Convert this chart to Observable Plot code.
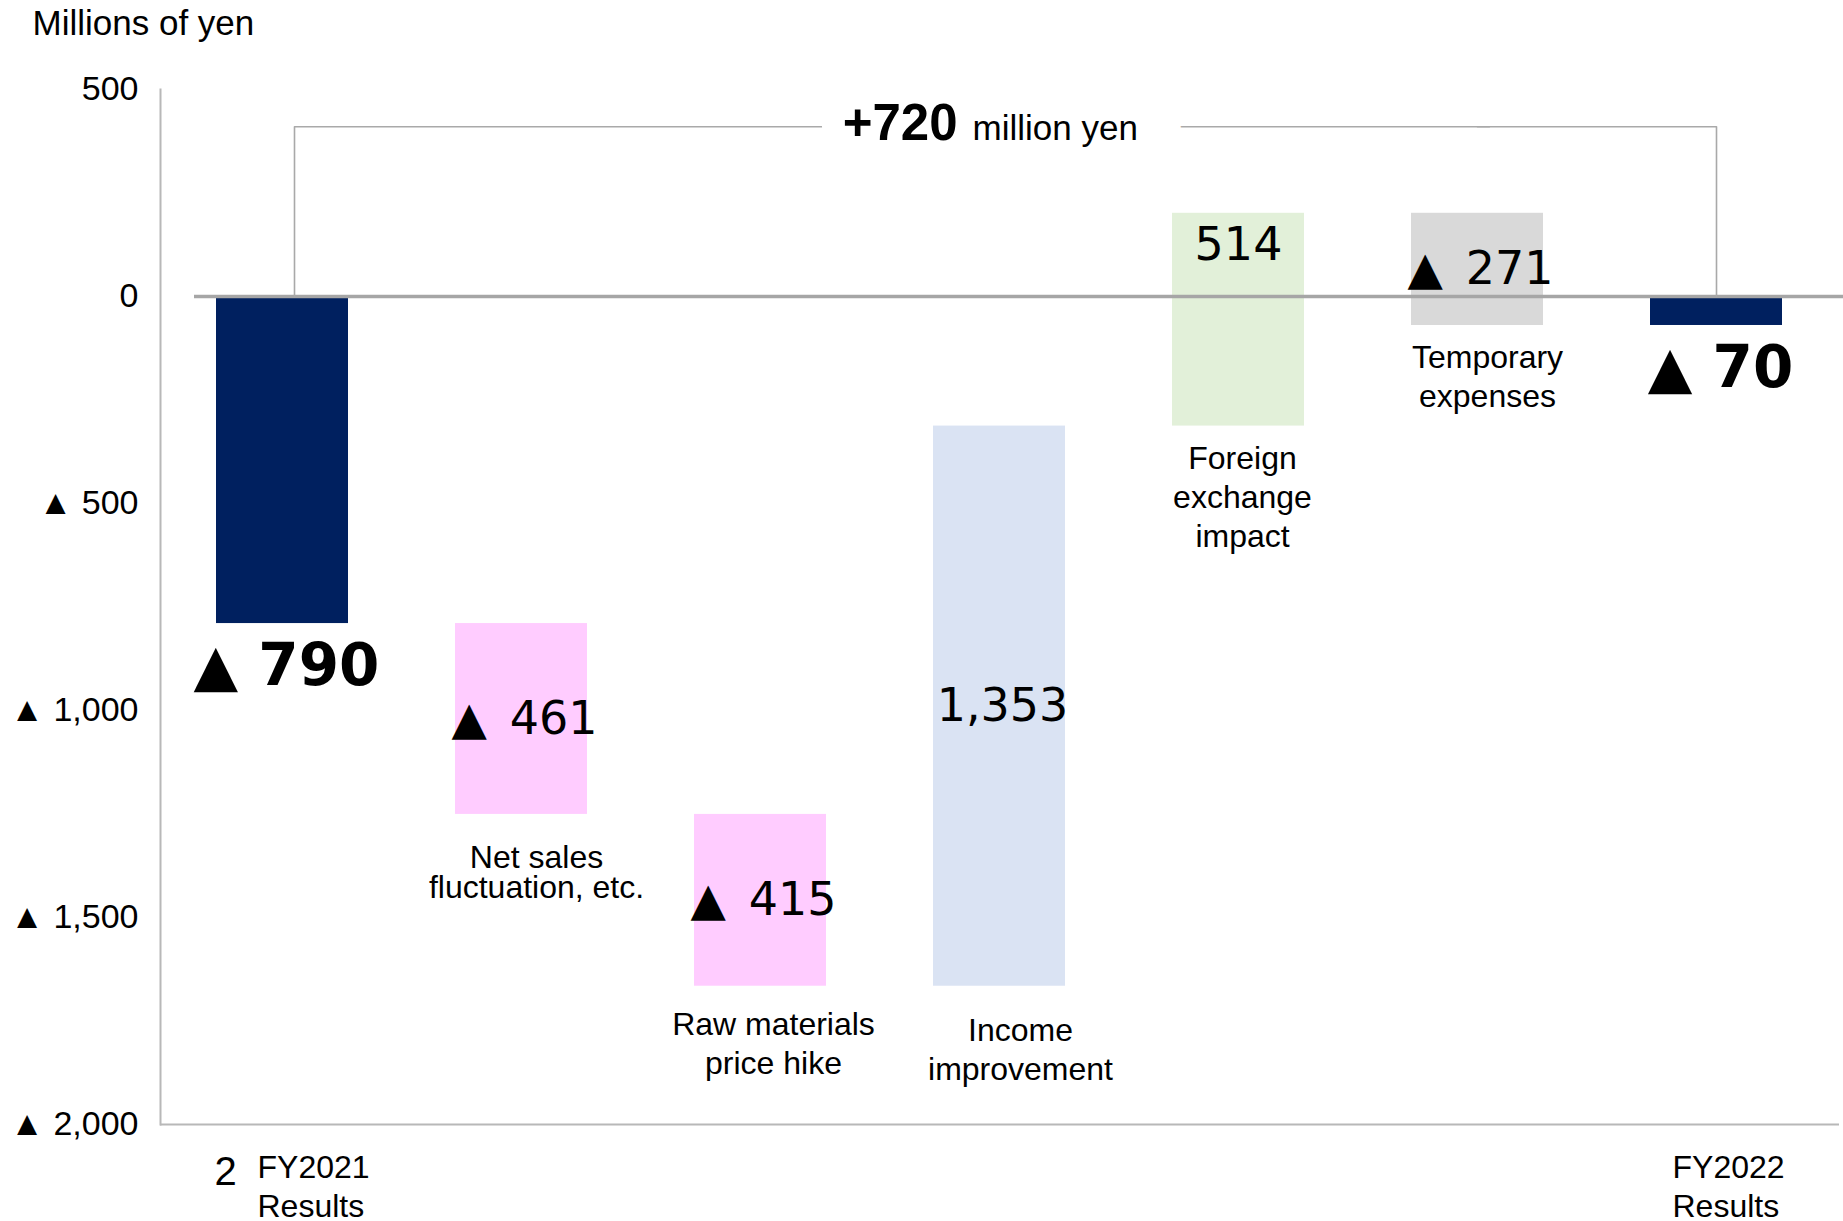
<!DOCTYPE html>
<html><head><meta charset="utf-8">
<script src="https://cdn.jsdelivr.net/npm/d3@7"></script>
<script src="https://cdn.jsdelivr.net/npm/@observablehq/plot@0.6"></script>
<style>html,body{margin:0;padding:0;background:#fff} svg{display:block}</style>
</head><body><div id="chart"></div>
<script>
const categories = ["FY2021 Results","Net sales fluctuation, etc.","Raw materials price hike","Income improvement","Foreign exchange impact","Temporary expenses","FY2022 Results"];
const categoryLabels = ["FY2021\nResults","Net sales\nfluctuation, etc.","Raw materials\nprice hike","Income\nimprovement","Foreign\nexchange\nimpact","Temporary\nexpenses","FY2022\nResults"];
const values = [-790, -461, -415, 1353, 514, -271, -70];
const kinds = ["total","delta","delta","delta","delta","delta","total"];
const barColors = ["#00205F","#FFCCFF","#FFCCFF","#DAE3F3","#E2F0D9","#D9D9D9","#00205F"];
const valueLabelPlace = ["below","middle","middle","middle","top","middle","below"];
const yTicks = [500, 0, -500, -1000, -1500, -2000];
const yDomain = [-2000, 500];
const bracketLevel = 410;
const totalChange = "+720";
const totalUnit = "million yen";
const yUnit = "Millions of yen";
const footnoteMark = "2";

const fmt = v => v < 0 ? "\u25B2 " + d3.format(",")(-v) : d3.format(",")(v);
const fmtBar = v => v < 0 ? "\u25B2\u2002" + d3.format(",")(-v) : d3.format(",")(v);

let run = 0;
const rows = categories.map((cat, i) => {
  let y1, y2;
  if (kinds[i] === "total") { y1 = 0; y2 = values[i]; run = values[i]; }
  else { y1 = run; y2 = run + values[i]; run += values[i]; }
  return {cat, label: categoryLabels[i], value: values[i], kind: kinds[i], color: barColors[i], place: valueLabelPlace[i], y1, y2, lo: Math.min(y1, y2), hi: Math.max(y1, y2)};
});
const totals = rows.filter(d => d.kind === "total");
const deltas = rows.filter(d => d.kind === "delta");
const bracketLeft = [
  {x: categories[0], y: 0}, {x: categories[0], y: bracketLevel}, {x: categories[5], y: bracketLevel}
];
const bracketRight = [
  {x: categories[5], y: bracketLevel}, {x: categories[6], y: bracketLevel}, {x: categories[6], y: 0}
];
const mid = categories[3];
const sans = "Liberation Sans, Arial, sans-serif";
const verd = "DejaVu Sans, Verdana, sans-serif";
const gridGray = "#b8b8b8";

function catLabel(cat, dx, dy, lineHeight = 1.22) {
  return Plot.text(rows.filter(d => d.cat === cat), {x: "cat", y: "lo", text: "label", lineAnchor: "top", dx, dy, fontSize: 32, lineHeight, fontFamily: sans, fill: "#000"});
}
function totalLabel(cat, dx) {
  return Plot.text(totals.filter(d => d.cat === cat), {x: "cat", y: () => yDomain[0], text: "label", lineAnchor: "top", textAnchor: "start", dx, dy: 26, fontSize: 32, lineHeight: 1.22, fontFamily: sans, fill: "#000"});
}

const chart = Plot.plot({
  width: 1843, height: 1221,
  marginLeft: 160, marginRight: 4, marginTop: 89, marginBottom: 97,
  style: {fontFamily: sans, fontSize: "33px", color: "#000", background: "#fff"},
  x: {domain: categories, paddingInner: 0.446, paddingOuter: 0.223, axis: null},
  y: {domain: yDomain},
  color: {type: "identity"},
  marks: [
    Plot.frame({anchor: "left", stroke: gridGray, strokeWidth: 2}),
    Plot.ruleY([yDomain[0]], {stroke: gridGray, strokeWidth: 2}),
    Plot.barY(rows, {x: "cat", y1: "y1", y2: "y2", fill: "color"}),
    Plot.ruleY([0], {stroke: "#a6a6a6", strokeWidth: 3.5, insetLeft: 34, insetRight: -4}),
    Plot.line(bracketLeft, {x: "x", y: "y", dx: 12, stroke: "#a9a9a9", strokeWidth: 1.6}),
    Plot.line(bracketRight, {x: "x", y: "y", stroke: "#a9a9a9", strokeWidth: 1.6}),
    // halos to open the gap in the bracket
    Plot.text([totalChange], {x: () => mid, y: () => bracketLevel, text: d => d, textAnchor: "end", dx: -42, dy: -3, fontSize: 51, fontWeight: "bold", fontFamily: sans, fill: "white", stroke: "white", strokeWidth: 46}),
    Plot.text([totalUnit], {x: () => mid, y: () => bracketLevel, text: d => d, textAnchor: "start", dx: -27, dy: 2, fontSize: 35, fontFamily: sans, fill: "white", stroke: "white", strokeWidth: 90}),
    Plot.text([totalChange], {x: () => mid, y: () => bracketLevel, text: d => d, textAnchor: "end", dx: -42, dy: -3, fontSize: 51, fontWeight: "bold", fontFamily: sans, fill: "#000"}),
    Plot.text([totalUnit], {x: () => mid, y: () => bracketLevel, text: d => d, textAnchor: "start", dx: -27, dy: 2, fontSize: 35, fontFamily: sans, fill: "#000"}),
    // value labels
    Plot.text(totals, {x: "cat", y: "lo", text: d => fmt(d.value), dx: 4, dy: 43, fontSize: 58, fontWeight: "bold", fontFamily: verd, fill: "#000"}),
    Plot.text(deltas.filter(d => d.place === "middle"), {x: "cat", y: d => (d.y1 + d.y2) / 2, text: d => fmtBar(d.value), dx: 3, fontSize: 46, fontFamily: verd, fill: "#000"}),
    Plot.text(deltas.filter(d => d.place === "top"), {x: "cat", y: "hi", text: d => fmtBar(d.value), dy: 32, fontSize: 46, fontFamily: verd, fill: "#000"}),
    // category labels under the floating bars
    catLabel(categories[1], 15, 33, 0.92),
    catLabel(categories[2], 13, 21),
    catLabel(categories[3], 21, 27),
    catLabel(categories[4], 4, 15),
    catLabel(categories[5], 10, 15),
    // category labels of the totals, below the axis
    totalLabel(categories[0], -25),
    totalLabel(categories[6], -44),
    Plot.text([footnoteMark], {x: () => categories[0], y: () => yDomain[0], text: d => d, dx: -57, dy: 48, fontSize: 40, fontFamily: sans, fill: "#000"}),
    // unit label
    Plot.text([yUnit], {frameAnchor: "top-left", text: d => d, textAnchor: "start", lineAnchor: "middle", dx: -128, dy: -66, fontSize: 35, fontFamily: sans, fill: "#000"}),
    Plot.axisY({ticks: yTicks, tickFormat: fmt, tickSize: 0, tickPadding: 22, fontSize: 34, label: null, fontFamily: sans})
  ]
});
document.getElementById("chart").appendChild(chart);
</script>
</body></html>
